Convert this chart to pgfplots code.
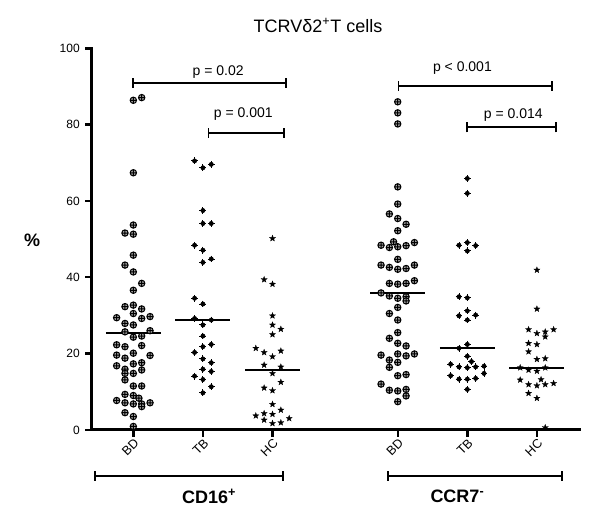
\documentclass[border=0pt]{standalone}
\usepackage{fontspec}
\setmainfont{Liberation Sans}
\usepackage{pgfplots}
\pgfplotsset{compat=1.18}
\usepackage{pgfplotstable}

\pgfdeclareplotmark{fstar}{%
\pgfpathmoveto{\pgfpointpolar{90}{\pgfplotmarksize}}%
\pgfpathlineto{\pgfpointpolar{126}{0.42\pgfplotmarksize}}%
\pgfpathlineto{\pgfpointpolar{162}{\pgfplotmarksize}}%
\pgfpathlineto{\pgfpointpolar{198}{0.42\pgfplotmarksize}}%
\pgfpathlineto{\pgfpointpolar{234}{\pgfplotmarksize}}%
\pgfpathlineto{\pgfpointpolar{270}{0.42\pgfplotmarksize}}%
\pgfpathlineto{\pgfpointpolar{306}{\pgfplotmarksize}}%
\pgfpathlineto{\pgfpointpolar{342}{0.42\pgfplotmarksize}}%
\pgfpathlineto{\pgfpointpolar{18}{\pgfplotmarksize}}%
\pgfpathlineto{\pgfpointpolar{54}{0.42\pgfplotmarksize}}%
\pgfpathclose
\pgfusepathqfillstroke}

% BD (CD16+ at 1, CCR7- at 4.8)
\pgfplotstableread{
x y
1.00 86.4
1.12 87.1
1.00 67.4
1.00 53.7
0.88 51.6
1.00 51.3
1.00 45.8
0.88 43.2
1.00 41.4
1.12 38.4
1.00 36.6
0.88 32.3
1.00 32.7
1.12 31.7
0.76 29.4
1.00 30.5
1.12 29.2
1.24 29.7
0.88 27.9
1.00 27.5
0.88 25.7
1.24 26.0
1.00 24.3
1.12 24.6
0.76 22.3
0.88 21.8
1.12 22.1
0.76 19.6
0.88 18.8
1.00 20.1
1.24 19.5
0.76 16.8
1.00 17.3
1.12 17.6
0.88 15.9
1.12 15.7
0.88 14.8
1.00 14.8
0.88 13.1
1.00 11.5
1.12 11.5
0.88 9.3
1.00 9.0
1.08 8.3
0.76 7.7
0.88 7.1
1.00 6.8
1.12 6.8
1.24 7.1
1.12 6.1
0.88 4.5
1.00 3.5
1.00 0.9
4.80 86.0
4.80 83.1
4.80 80.2
4.80 63.7
4.80 59.2
4.68 56.6
4.80 55.4
4.92 53.9
4.80 52.2
4.74 49.3
5.04 49.1
4.56 48.4
4.68 47.8
4.80 48.0
4.92 48.3
4.80 44.7
4.56 43.2
4.68 42.6
4.80 42.1
4.92 42.3
5.04 43.2
4.68 38.4
4.80 38.2
4.92 38.4
5.04 39.1
4.56 35.9
4.68 35.1
4.80 34.5
4.92 34.9
4.92 33.8
4.80 32.1
4.68 30.5
4.80 28.8
4.80 25.5
4.68 24.0
4.80 22.7
4.92 22.0
4.56 19.6
4.80 19.9
4.92 19.4
5.04 19.9
4.68 18.3
4.80 17.7
4.68 16.4
4.80 14.2
4.92 14.5
4.56 12.0
4.68 10.4
4.80 10.2
4.92 10.6
4.92 8.9
4.80 7.4
}\bdtable

% TB (CD16+ at 2, CCR7- at 5.8)
\pgfplotstableread{
x y
1.88 70.5
2.00 68.7
2.12 69.6
2.00 57.5
2.00 54.1
2.12 54.1
1.88 48.4
2.00 47.1
2.00 43.9
2.12 44.8
1.88 34.5
2.00 33.0
1.88 29.2
2.12 28.8
2.00 27.5
2.00 24.6
2.00 21.8
2.12 22.4
1.88 20.3
2.00 18.6
2.12 17.6
2.00 15.9
2.12 15.3
1.88 14.1
2.00 13.2
2.12 11.3
2.00 9.7
5.80 65.9
5.80 62.0
5.68 48.4
5.80 49.1
5.92 48.3
5.80 46.9
5.68 34.9
5.80 34.6
5.80 31.2
5.68 29.9
5.92 30.1
5.80 28.8
5.80 22.4
5.68 21.4
5.80 19.3
5.86 17.9
5.56 17.2
5.68 16.5
5.80 16.3
5.92 16.5
6.04 16.7
6.04 14.8
5.56 14.2
5.68 13.3
5.80 13.3
5.92 13.5
5.80 10.6
}\tbtable

% HC (CD16+ at 3, CCR7- at 6.8)
\pgfplotstableread{
x y
3.00 50.2
2.88 39.4
3.00 38.2
3.00 29.9
3.00 27.5
3.12 26.4
3.00 25.0
2.76 21.4
2.88 20.3
3.12 20.7
3.00 19.2
2.88 17.0
3.12 16.5
3.00 14.8
3.12 12.5
2.88 11.0
3.00 10.3
3.00 6.7
3.12 5.2
2.76 3.7
2.88 4.3
3.00 4.1
2.88 2.6
3.00 1.7
3.12 1.9
3.24 3.0
6.80 41.9
6.80 31.7
6.68 26.3
6.92 25.7
7.04 26.3
6.80 25.3
6.92 24.4
6.68 22.7
6.80 22.4
6.68 20.5
6.80 18.5
6.92 18.7
6.56 16.3
6.68 15.7
6.80 15.4
6.92 16.3
6.86 13.2
6.56 13.1
6.68 11.9
6.80 11.6
6.92 11.9
7.04 12.2
6.68 9.6
6.80 8.3
6.92 0.6
}\hctable

\begin{document}
\begin{tikzpicture}
\useasboundingbox (-68.8pt,-69.2pt) rectangle (381.2pt,322.4pt);
\begin{axis}[
  scale only axis, width=365.7pt, height=286.1pt,
  xmin=0.402, xmax=7.41, ymin=0, ymax=100,
  axis x line=bottom, axis y line=left,
  axis line style={draw=none},
  xtick={1,2,3,4.8,5.8,6.8}, xticklabels={BD,TB,HC,BD,TB,HC},
  ytick={0,20,40,60,80,100},
  tick align=outside, major tick length=4.5pt,
  major tick style={draw=none},
  xticklabel style={rotate=45, anchor=east, xshift=2.5pt, yshift=-4.5pt, font=\fontsize{9.5}{11}\selectfont},
  yticklabel style={font=\fontsize{9}{10}\selectfont, xshift=-1pt},
  /pgf/number format/assume math mode=true,
  clip=false,
]
\addplot[only marks, mark=oplus*, mark size=2.4pt, mark options={fill=gray!70, draw=black, line width=0.75pt}] table {\bdtable};
\addplot[only marks, mark=*, mark size=1.6pt, black] table {\tbtable};
\addplot[only marks, mark=+, mark size=2.6pt, black, mark options={line width=0.7pt}] table {\tbtable};
\addplot[only marks, mark=fstar, mark size=2.4pt, black, mark options={line width=0.2pt, fill=black}] table {\hctable};

% medians
\addplot[black, line width=1.6pt, no markers] coordinates {(0.605,25.5) (1.395,25.5)};
\addplot[black, line width=1.6pt, no markers] coordinates {(1.605,28.8) (2.395,28.8)};
\addplot[black, line width=1.6pt, no markers] coordinates {(2.605,15.7) (3.395,15.7)};
\addplot[black, line width=1.6pt, no markers] coordinates {(4.405,35.9) (5.195,35.9)};
\addplot[black, line width=1.6pt, no markers] coordinates {(5.405,21.4) (6.195,21.4)};
\addplot[black, line width=1.6pt, no markers] coordinates {(6.405,16.3) (7.195,16.3)};

% heavy axis lines and ticks (Prism style)
\draw[line width=2.3pt, line cap=rect] (axis cs:0.402,100) -- (axis cs:0.402,0) -- (axis cs:7.41,0);
\draw[line width=1.8pt]
  ([xshift=-5pt]axis cs:0.402,0) -- (axis cs:0.402,0)
  ([xshift=-5pt]axis cs:0.402,20) -- (axis cs:0.402,20)
  ([xshift=-5pt]axis cs:0.402,40) -- (axis cs:0.402,40)
  ([xshift=-5pt]axis cs:0.402,60) -- (axis cs:0.402,60)
  ([xshift=-5pt]axis cs:0.402,80) -- (axis cs:0.402,80)
  ([xshift=-5pt]axis cs:0.402,100) -- (axis cs:0.402,100);
\draw[line width=1.8pt]
  ([yshift=-5pt]axis cs:1,0) -- (axis cs:1,0)
  ([yshift=-5pt]axis cs:2,0) -- (axis cs:2,0)
  ([yshift=-5pt]axis cs:3,0) -- (axis cs:3,0)
  ([yshift=-5pt]axis cs:4.8,0) -- (axis cs:4.8,0)
  ([yshift=-5pt]axis cs:5.8,0) -- (axis cs:5.8,0)
  ([yshift=-5pt]axis cs:6.8,0) -- (axis cs:6.8,0);

% significance brackets
\draw[line width=1.4pt] (axis cs:1,89.7) -- (axis cs:1,92.3) (axis cs:1,91) -- (axis cs:3.19,91) (axis cs:3.19,89.7) -- (axis cs:3.19,92.3);
\draw[line width=1.4pt] (axis cs:2.08,76.6) -- (axis cs:2.08,79.2) (axis cs:2.08,77.9) -- (axis cs:3.17,77.9) (axis cs:3.17,76.6) -- (axis cs:3.17,79.2);
\draw[line width=1.4pt] (axis cs:4.81,88.9) -- (axis cs:4.81,91.5) (axis cs:4.81,90.2) -- (axis cs:7.02,90.2) (axis cs:7.02,88.9) -- (axis cs:7.02,91.5);
\draw[line width=1.4pt] (axis cs:5.79,78.0) -- (axis cs:5.79,80.6) (axis cs:5.79,79.3) -- (axis cs:7.08,79.3) (axis cs:7.08,78.0) -- (axis cs:7.08,80.6);
\node[font=\fontsize{10.5}{12}\selectfont] at (axis cs:2.22,93.8) {p = 0.02};
\node[font=\fontsize{10.5}{12}\selectfont] at (axis cs:2.58,82.7) {p = 0.001};
\node[font=\fontsize{10.5}{12}\selectfont] at (axis cs:5.73,94.8) {p < 0.001};
\node[font=\fontsize{10.5}{12}\selectfont] at (axis cs:6.46,82.5) {p = 0.014};

% title and axis label
\node[font=\fontsize{13.5}{16}\selectfont] at (axis cs:3.654,106.1) {TCRVδ2\textsuperscript{+}T cells};
\node[font=\bfseries\fontsize{13.5}{16}\selectfont] at (axis cs:-0.455,49.75) {\%};

% group brackets
\draw[line width=1.4pt] (axis cs:0.45,-10.8) -- (axis cs:0.45,-13.4) (axis cs:0.45,-12.1) -- (axis cs:3.155,-12.1) (axis cs:3.155,-10.8) -- (axis cs:3.155,-13.4);
\draw[line width=1.4pt] (axis cs:4.66,-10.8) -- (axis cs:4.66,-13.4) (axis cs:4.66,-12.1) -- (axis cs:7.155,-12.1) (axis cs:7.155,-10.8) -- (axis cs:7.155,-13.4);
\node[font=\bfseries\fontsize{13.5}{16}\selectfont] at (axis cs:2.088,-17.5) {CD16\textsuperscript{+}};
\node[font=\bfseries\fontsize{13.5}{16}\selectfont] at (axis cs:5.658,-17.5) {CCR7\textsuperscript{-}};
\end{axis}
\end{tikzpicture}
\end{document}
